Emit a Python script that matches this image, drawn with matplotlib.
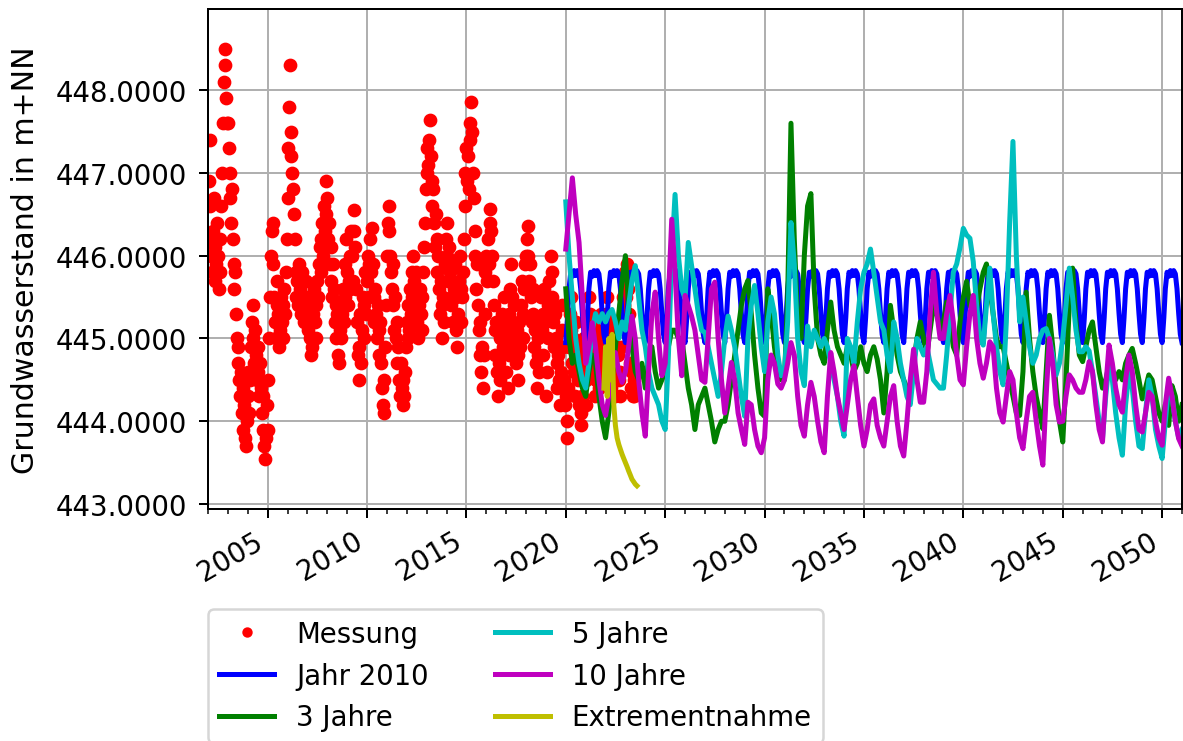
import numpy as np
import pandas as pd
import matplotlib
matplotlib.use('Agg')
import matplotlib.pyplot as plt
import matplotlib.dates as mdates
from matplotlib.ticker import FormatStrFormatter

# Messwerte, halbmonatlich (1. und 15.), Jan 2002 bis Jun 2023
messung = [
    446.2, 446.9, 447.4, 446.6, 446.0, 445.8, 446.3, 446.7, 446.1, 445.7, 445.9, 446.4,
    446.0, 445.6, 445.8, 446.2, 446.6, 447.0, 447.6, 448.1, 448.5, 448.3, 447.9, 447.6,  # 2002
    447.6, 447.3, 447.0, 446.7, 446.4, 446.8, 446.2, 445.9, 445.6, 445.8, 445.3, 445.0,
    444.7, 444.9, 444.5, 444.3, 444.6, 444.1, 444.4, 443.9, 444.2, 443.8, 443.7, 444.0,  # 2003
    444.3, 444.6, 444.1, 444.5, 444.9, 445.2, 445.4, 445.0, 444.7, 445.1, 444.8, 444.5,
    444.9, 444.6, 444.3, 444.7, 444.4, 444.1, 443.9, 444.3, 443.7, 443.55, 443.8, 444.2,  # 2004
    443.9, 444.5, 445.0, 445.5, 446.0, 446.3, 446.4, 445.9, 445.5, 445.2, 445.0, 445.4,
    445.7, 445.3, 444.9, 445.1, 445.5, 445.2, 445.0, 445.4, 445.6, 445.3, 445.8, 446.2,  # 2005
    446.7, 447.3, 447.8, 448.3, 447.5, 447.2, 447.0, 446.8, 446.5, 446.2, 445.8, 445.5,
    445.7, 445.4, 445.9, 445.6, 445.3, 445.5, 445.8, 445.5, 445.2, 445.4, 445.7, 445.3,  # 2006
    445.5, 445.1, 445.4, 445.0, 444.8, 445.2, 444.9, 445.3, 445.6, 445.2, 445.0, 445.4,
    445.7, 445.5, 445.9, 446.1, 445.8, 446.2, 446.4, 446.0, 446.6, 446.3, 446.9, 446.5,  # 2007
    446.7, 446.2, 446.4, 445.9, 446.1, 445.7, 445.5, 445.9, 445.6, 445.2, 445.4, 445.0,
    445.3, 444.8, 444.7, 445.1, 445.4, 445.0, 445.3, 445.6, 445.2, 445.5, 445.9, 446.2,  # 2008
    445.8, 445.4, 445.7, 446.0, 445.6, 446.3, 446.0, 445.7, 446.3, 446.55, 446.1, 445.6,
    445.2, 444.8, 444.5, 444.9, 445.3, 444.7, 445.1, 445.5, 445.0, 445.4, 445.8, 445.3,  # 2009
    445.7, 446.0, 445.5, 445.9, 446.2, 445.8, 446.33, 445.9, 445.5, 445.2, 445.6, 445.3,
    445.0, 445.4, 445.1, 444.8, 445.2, 444.7, 444.4, 444.2, 444.1, 444.5, 444.9, 445.4,  # 2010
    446.0, 446.4, 446.6, 446.3, 446.0, 445.8, 445.6, 445.9, 445.4, 445.1, 445.5, 445.0,
    444.7, 445.2, 444.9, 444.5, 444.3, 444.7, 444.4, 444.2, 444.5, 444.3, 444.6, 444.9,  # 2011
    445.2, 445.0, 445.4, 445.1, 445.6, 445.3, 445.8, 445.5, 446.0, 445.7, 445.4, 445.8,
    445.5, 445.2, 445.0, 445.4, 445.6, 445.3, 445.1, 445.5, 445.8, 446.1, 446.4, 446.8,  # 2012
    447.0, 447.3, 447.1, 447.4, 447.64, 447.2, 446.9, 446.6, 446.8, 446.4, 446.1, 446.5,
    446.2, 445.8, 446.0, 445.6, 445.3, 445.7, 445.4, 445.0, 445.5, 445.2, 445.9, 446.2,  # 2013
    446.4, 446.0, 445.7, 446.1, 445.8, 445.4, 445.9, 445.5, 445.2, 445.6, 445.9, 445.5,
    445.1, 444.9, 445.3, 445.7, 446.0, 445.6, 445.2, 445.5, 445.8, 446.2, 446.6, 447.0,  # 2014
    447.3, 446.9, 447.2, 446.8, 447.4, 447.6, 447.86, 447.5, 447.0, 446.7, 446.3, 446.0,
    445.6, 445.9, 445.4, 445.1, 444.8, 445.2, 444.6, 444.9, 444.4, 444.8, 445.3, 445.8,  # 2015
    446.0, 445.7, 446.2, 445.9, 446.4, 446.57, 446.3, 446.0, 445.7, 445.4, 445.1, 444.8,
    445.2, 444.6, 444.3, 444.7, 445.0, 444.5, 444.8, 445.3, 444.9, 445.2, 445.5, 445.1,  # 2016
    444.6, 445.0, 444.4, 444.8, 445.3, 445.6, 445.9, 445.5, 445.2, 444.9, 445.4, 445.0,
    444.7, 445.1, 444.5, 444.8, 445.2, 444.9, 445.4, 445.7, 445.3, 445.0, 445.6, 445.9,  # 2017
    446.0, 446.2, 446.36, 446.0, 445.7, 445.9, 445.5, 445.2, 445.6, 445.3, 444.9, 445.1,
    444.7, 444.4, 444.8, 445.0, 444.6, 445.2, 445.5, 445.1, 444.8, 445.3, 445.6, 445.2,  # 2018
    444.3, 444.6, 445.0, 445.4, 445.7, 445.4, 446.0, 445.8, 445.5, 445.2, 444.9, 445.3,
    445.0, 444.7, 444.4, 444.8, 444.5, 444.2, 444.6, 445.1, 445.4, 444.9, 444.5, 444.2,  # 2019
    444.3, 444.0, 443.8, 444.4, 444.9, 445.3, 445.5, 445.1, 444.7, 445.0, 444.6, 444.3,
    444.8, 445.2, 444.9, 444.5, 444.2, 444.6, 444.1, 443.95, 444.3, 444.7, 445.0, 444.6,  # 2020
    444.2, 444.5, 444.8, 445.2, 445.5, 445.3, 445.0, 444.7, 444.9, 445.2, 444.6, 444.3,
    444.5, 444.8, 445.1, 444.7, 444.4, 444.6, 444.9, 445.3, 445.0, 444.7, 444.5, 444.8,  # 2021
    445.0, 445.3, 445.5, 445.2, 444.9, 445.1, 444.7, 444.4, 444.6, 444.9, 444.5, 444.3,
    444.6, 444.9, 445.2, 444.8, 444.5, 444.3, 444.6, 444.9, 445.2, 445.5, 445.7, 445.4,  # 2022
    445.8, 445.5, 445.9, 445.6, 445.3, 445.0, 444.7, 444.4, 444.6, 444.3, 444.5, 444.3,  # 2023
]

# Jahresgang 2010, monatlich, wird fuer die Prognose wiederholt
jahr_2010 = [444.95, 445.25, 445.6, 445.8, 445.75, 445.82,
             445.76, 445.82, 445.78, 445.6, 445.3, 445.05]

# Prognosen, zweimonatlich (Jan, Mar, Mai, Jul, Sep, Nov), 2020 bis Jan 2051
jahre_3 = [
    445.6, 445.0, 444.7, 444.8, 444.6, 444.4,
    444.3, 444.6, 444.8, 444.7, 444.3, 444.0,
    443.8, 444.1, 444.5, 444.9, 445.3, 445.7,
    446.0, 445.4, 444.9, 444.6, 444.5, 444.7,
    444.4, 444.8, 444.9, 444.6, 444.4, 444.5,
    444.6, 444.9, 445.1, 445.1, 445.0, 445.0,
    444.7, 444.4, 444.2, 443.9, 444.2, 444.3,
    444.4, 444.2, 444.0, 443.75, 443.9, 444.0,
    444.0, 444.2, 444.5, 444.8, 445.1, 445.4,
    445.6, 445.7, 445.3, 444.8, 444.4, 444.1,
    444.06, 445.6, 445.3, 444.9, 444.6, 444.5,
    444.5, 445.5, 447.6, 446.2, 445.2, 445.0,
    446.0, 446.6, 446.75, 445.6, 445.0, 444.8,
    444.7, 445.1, 445.44, 445.1, 444.9, 444.8,
    444.7, 444.9, 444.8, 444.6, 444.7, 444.9,
    444.7, 444.6, 444.8, 444.9, 444.75, 444.5,
    444.1, 444.6, 445.4, 445.1, 444.8, 444.6,
    444.5, 444.4, 444.35, 444.7, 445.0, 445.2,
    445.0, 444.8, 445.1, 445.4, 445.3, 445.1,
    445.2, 445.44, 445.2, 444.9, 444.8, 445.2,
    445.5, 445.69, 445.4, 445.3, 445.36, 445.6,
    445.8, 445.9, 445.6, 445.3, 445.0, 444.9,
    444.9, 444.7, 444.5, 444.3, 444.1, 444.07,
    444.6, 445.56, 445.0, 444.6, 444.3, 444.1,
    443.91, 444.6, 445.28, 444.9, 444.4, 444.0,
    443.75, 444.5, 445.4, 445.85, 445.2, 444.8,
    444.72, 444.9, 445.1, 445.2, 444.9, 444.6,
    444.4, 444.5, 444.68, 444.6, 444.5, 444.6,
    444.5, 444.7, 444.8, 444.88, 444.7, 444.5,
    444.27, 444.4, 444.56, 444.5, 444.3, 444.1,
    444.0, 444.2, 443.95, 444.43, 444.3, 444.0,
    444.2,
]

jahre_5 = [
    446.65, 446.0, 445.5, 445.0, 444.7, 444.5,
    444.4, 444.7, 445.1, 445.3, 445.2, 445.3,
    445.2, 445.3, 445.35, 445.2, 445.0, 445.2,
    445.1, 445.4, 445.7, 445.88, 445.5, 445.1,
    444.9, 444.6, 444.4, 444.3, 444.2, 444.0,
    443.9, 444.8, 446.0, 446.74, 446.0, 445.6,
    445.48, 446.16, 445.88, 445.6, 445.3, 445.1,
    445.07, 444.9, 444.7, 444.5, 444.3, 444.6,
    445.0, 445.27, 445.1, 444.9, 444.6, 444.3,
    444.06, 445.0, 445.4, 445.64, 445.3, 444.9,
    444.6, 445.2, 445.5, 445.3, 444.8, 444.55,
    444.6, 445.2, 446.4, 445.9, 445.0, 444.6,
    444.43, 445.15, 444.9, 445.1, 445.0, 444.9,
    445.0, 444.9, 444.7, 444.5, 444.3, 444.0,
    443.82, 445.0, 444.9, 444.7, 445.2, 445.6,
    445.8, 445.9, 446.08, 445.8, 445.5, 445.2,
    445.1, 444.8, 444.6, 445.2, 445.0, 444.7,
    444.5, 444.3, 444.2, 444.6, 445.0, 444.9,
    444.8, 444.9, 444.7, 444.5, 444.45, 444.4,
    444.4, 444.8, 445.3, 445.8, 445.9, 446.1,
    446.33, 446.25, 446.21, 445.93, 445.4, 445.0,
    444.92, 445.4, 445.85, 445.3, 444.9, 444.6,
    444.44, 445.2, 446.4, 447.38, 446.0, 445.2,
    445.5, 445.2, 444.9, 444.7, 444.8, 445.0,
    445.1, 445.12, 445.0, 444.8, 444.56, 444.7,
    445.0, 445.4, 445.85, 445.5, 445.1, 444.84,
    444.84, 444.9, 444.85, 444.6, 444.3, 444.0,
    443.79, 444.3, 444.7, 444.5, 444.1, 443.8,
    443.59, 444.2, 444.6, 444.4, 444.0, 443.7,
    443.67, 444.1, 444.5, 444.3, 443.9, 443.7,
    443.55, 444.0, 444.43, 444.3, 444.0, 443.8,
    443.9,
]

jahre_10 = [
    446.08, 446.5, 446.94, 446.5, 446.16, 445.5,
    444.7, 444.9, 445.19, 444.9, 444.5, 444.2,
    444.07, 444.3, 444.6, 444.83, 444.6, 444.47,
    444.6, 444.9, 445.27, 445.0, 444.5, 444.1,
    443.82, 444.6, 445.3, 445.56, 445.0, 444.55,
    444.7, 445.5, 446.44, 445.8, 445.0, 444.55,
    445.52, 445.4, 445.27, 445.1, 444.8, 444.5,
    444.47, 445.0, 445.6, 445.68, 445.0, 444.5,
    444.1, 444.4, 444.71, 444.5, 444.1, 443.9,
    443.72, 444.23, 444.2, 443.9, 443.7, 443.62,
    443.8, 444.5, 444.8, 444.7, 444.45, 444.4,
    444.5, 444.7, 444.95, 444.8, 444.3, 443.95,
    443.82, 444.2, 444.47, 444.3, 444.0, 443.75,
    443.62, 444.3, 444.83, 444.6, 444.3, 444.1,
    443.9, 444.2, 444.5, 444.67, 444.3, 443.95,
    443.7, 443.9, 444.2, 444.27, 443.95, 443.8,
    443.7, 444.0, 444.3, 444.43, 444.0, 443.7,
    443.58, 444.0, 444.5, 444.87, 444.5, 444.23,
    444.23, 444.6, 445.3, 445.8, 445.3, 445.0,
    445.0, 445.3, 445.52, 445.2, 444.8, 444.5,
    444.44, 444.9, 445.3, 445.52, 445.0, 444.7,
    444.52, 444.7, 444.96, 444.9, 444.4, 444.1,
    443.99, 444.3, 444.6, 444.5, 444.1, 443.8,
    443.67, 444.0, 444.3, 444.35, 444.0, 443.7,
    443.47, 444.3, 445.0, 444.7, 444.2, 443.99,
    444.0, 444.3, 444.56, 444.5, 444.4, 444.35,
    444.35, 444.5, 444.72, 444.6, 444.2, 443.9,
    443.75, 444.4, 444.92, 444.7, 444.4, 444.2,
    444.11, 444.5, 444.8, 444.6, 444.2, 443.9,
    443.87, 444.1, 444.35, 444.3, 444.0, 443.8,
    443.71, 444.2, 444.52, 444.3, 444.0, 443.79,
    443.7,
]

# Extrementnahme, monatlich Dez 2021 bis Aug 2023
extrem = [444.4, 444.9, 444.3, 445.0, 444.5, 445.05, 444.2, 443.95, 443.8,
          443.72, 443.66, 443.6, 443.55, 443.5, 443.45, 443.4, 443.35,
          443.3, 443.27, 443.24, 443.22]

t_messung = pd.date_range('2002-01-01', periods=len(messung), freq='SMS')
t_prognose = pd.date_range('2020-01-01', periods=len(jahre_3), freq='2MS')
t_monat = pd.date_range('2020-01-01', '2051-01-01', freq='MS')
t_extrem = pd.date_range('2021-12-01', periods=len(extrem), freq='MS')
jahr_2010_reihe = np.append(np.tile(jahr_2010, 31), jahr_2010[0])

plt.rcParams['font.size'] = 11
plt.rcParams['lines.linewidth'] = 2.0
fig = plt.figure(figsize=(1183 / 180, 742 / 180), dpi=180)
ax = fig.add_axes([208 / 1183, 1 - 510 / 742, 974 / 1183, 500 / 742])

ax.plot(t_messung, messung, 'r.', ms=9, label='Messung')
ax.plot(t_monat, jahr_2010_reihe, 'b-', label='Jahr 2010')
ax.plot(t_prognose, jahre_3, 'g-', label='3 Jahre')
ax.plot(t_prognose, jahre_5, 'c-', label='5 Jahre')
ax.plot(t_prognose, jahre_10, 'm-', label='10 Jahre')
ax.plot(t_extrem, extrem, 'y-', label='Extrementnahme')

ax.set_xlim(pd.Timestamp('2002-01-01'), pd.Timestamp('2051-01-01'))
ax.set_ylim(442.94, 448.98)
ax.xaxis.set_major_locator(mdates.YearLocator(5))
ax.xaxis.set_minor_locator(mdates.YearLocator(1))
ax.xaxis.set_major_formatter(mdates.DateFormatter('%Y'))
ax.yaxis.set_major_formatter(FormatStrFormatter('%.4f'))
ax.tick_params(axis='y', pad=5)
ax.grid(True)
ax.set_ylabel('Grundwasserstand in m+NN', fontsize=12, labelpad=6)
for lab in ax.get_xticklabels():
    lab.set_rotation(30)
    lab.set_ha('right')

ax.legend(ncol=2, loc='upper left', borderaxespad=0, markerscale=0.7,
          columnspacing=2.4,
          bbox_to_anchor=(208 / 1183, 1 - 610 / 742), bbox_transform=fig.transFigure)

fig.savefig('out.png', dpi=180)
